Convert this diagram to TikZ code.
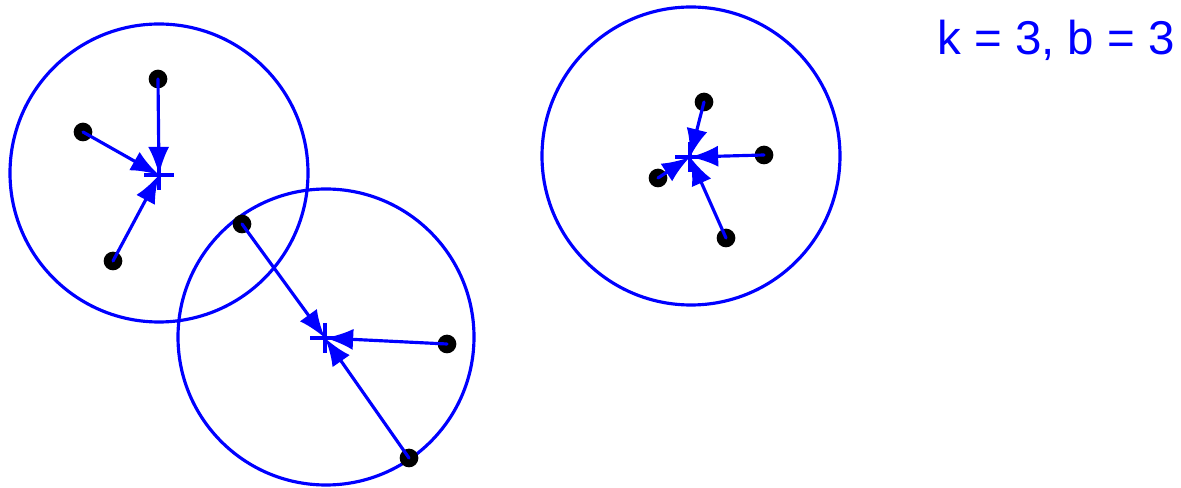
\documentclass[tikz,border=0pt]{standalone}
\usepackage{fontspec}
\setmainfont{Liberation Sans}
\usepackage{tikz}
\usetikzlibrary{calc, arrows.meta}
\usepackage{tkz-euclide}

\begin{document}
\begin{tikzpicture}[x=0.01cm, y=-0.01cm, line width=0.9pt]
            \useasboundingbox (0,0) rectangle (1181,488);
            \tkzDefPoints{159/173/C_1, 308/173/R_1, 326/337/C_2, 474/337/R_2, 691/156/C_3, 840/156/R_3}
            \tkzDefPoints{159/175/M_1, 325/338/M_2, 690/157/M_3}
            \tkzDefPoints{158/79/A_1, 83/132/A_2, 113/261/A_3}
            \tkzDefPoints{242/224/B_1, 447/344/B_2, 409/458/B_3}
            \tkzDefPoints{704/102/D_1, 764/155/D_2, 658/178/D_3, 726/238/D_4}
            \tkzDrawCircles[blue, line width=0.9pt](C_1,R_1 C_2,R_2 C_3,R_3)
            \tkzDrawPoints[fill=black, color=black, size=4.4](A_1,A_2,A_3,B_1,B_2,B_3,D_1,D_2,D_3,D_4)
            \tkzDrawSegments[blue, line width=0.9pt, -{Latex[length=8pt, width=6pt]}](A_1,M_1 A_2,M_1 A_3,M_1 B_1,M_2 B_2,M_2 B_3,M_2 D_1,M_3 D_2,M_3 D_3,M_3 D_4,M_3)
            % centroid marks
            \foreach \m in {M_1, M_2, M_3}
              \draw[blue, line width=0.9pt] (\m) ++(-15,0) -- ++(30,0) (\m) ++(0,-15) -- ++(0,30);
            \node[blue, font=\fontsize{13.5}{16}\selectfont] (lbl) at (1056,40) {k = 3, b = 3};
        \end{tikzpicture}
\end{document}
